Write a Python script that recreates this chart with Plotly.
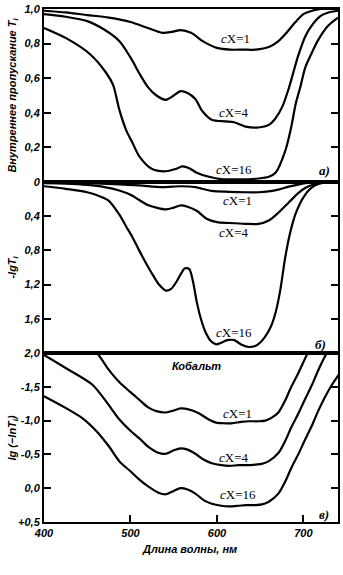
import plotly.graph_objects as go

# ---------------- data ----------------
# Panel a) internal transmittance Ti
wl_a1 = [400, 425, 450, 475, 500, 520, 537, 548, 558, 570, 585, 600, 615, 630, 645, 660, 670, 680, 690, 700, 710, 720, 740]
ta_1 = [0.99, 0.98, 0.965, 0.95, 0.925, 0.89, 0.862, 0.868, 0.878, 0.862, 0.81, 0.775, 0.765, 0.765, 0.765, 0.78, 0.81, 0.86, 0.92, 0.97, 0.99, 1.0, 1.0]

wl_a4 = [400, 425, 450, 470, 487, 500, 510, 520, 530, 541, 550, 558, 566, 575, 583, 594, 610, 620, 633, 648, 660, 668, 676, 683, 694, 702, 709, 720, 729, 740]
ta_4 = [0.97, 0.955, 0.93, 0.88, 0.815, 0.72, 0.63, 0.55, 0.50, 0.475, 0.50, 0.525, 0.515, 0.48, 0.41, 0.36, 0.35, 0.345, 0.32, 0.315, 0.33, 0.37, 0.44, 0.54, 0.73, 0.84, 0.90, 0.96, 0.98, 0.99]

wl_a16 = [400, 426, 453, 472, 480, 487, 495, 502, 510, 525, 541, 552, 560, 568, 576, 591, 605, 625, 648, 660, 668, 679, 686, 691, 697, 702, 710, 717, 728, 740]
ta_16 = [0.89, 0.83, 0.74, 0.63, 0.56, 0.42, 0.30, 0.23, 0.15, 0.075, 0.062, 0.075, 0.09, 0.08, 0.055, 0.03, 0.017, 0.015, 0.02, 0.03, 0.055, 0.18, 0.32, 0.45, 0.56, 0.66, 0.75, 0.82, 0.90, 0.95]

# Panel б) -lg Ti
wl_b1 = [400, 450, 487, 510, 537, 558, 575, 594, 614, 633, 648, 660, 671, 683, 694, 705, 720, 740]
vb_1 = [0.005, 0.015, 0.028, 0.04, 0.06, 0.05, 0.06, 0.105, 0.115, 0.12, 0.12, 0.11, 0.09, 0.055, 0.03, 0.012, 0.003, 0.0]

wl_b4 = [400, 425, 450, 470, 487, 500, 510, 520, 530, 541, 550, 558, 566, 577, 588, 600, 614, 633, 648, 660, 671, 683, 694, 702, 712, 725, 740]
vb_4 = [0.015, 0.02, 0.035, 0.06, 0.10, 0.15, 0.21, 0.27, 0.30, 0.32, 0.30, 0.275, 0.29, 0.34, 0.43, 0.47, 0.48, 0.49, 0.49, 0.45, 0.36, 0.24, 0.13, 0.07, 0.03, 0.008, 0.0]

wl_b16 = [400, 425, 450, 465, 475, 487, 495, 502, 510, 518, 526, 533, 541, 547, 553, 558, 563, 568, 572, 577, 582, 587, 593, 599, 605, 612, 620, 628, 637, 646, 655, 662, 668, 673, 679, 685, 691, 700, 709, 718, 725, 740]
vb_16 = [0.05, 0.08, 0.12, 0.17, 0.22, 0.38, 0.52, 0.64, 0.80, 0.95, 1.09, 1.20, 1.27, 1.25, 1.17, 1.08, 1.01, 1.02, 1.15, 1.42, 1.62, 1.76, 1.86, 1.90, 1.88, 1.85, 1.85, 1.90, 1.93, 1.91, 1.82, 1.70, 1.52, 1.28, 0.88, 0.58, 0.37, 0.18, 0.07, 0.02, 0.005, 0.0]

# Panel в) lg(-ln Ti)
wl_c1 = [440, 461, 475, 487, 500, 510, 520, 530, 541, 550, 558, 566, 579, 590, 599, 610, 617, 628, 637, 648, 656, 663, 671, 679, 686, 694, 702, 710]
vc_1 = [-2.2, -2.0, -1.75, -1.57, -1.42, -1.31, -1.2, -1.14, -1.12, -1.15, -1.18, -1.17, -1.11, -1.02, -0.97, -0.96, -0.96, -0.98, -0.99, -0.99, -1.0, -1.04, -1.12, -1.30, -1.50, -1.70, -1.92, -2.13]

wl_c4 = [400, 426, 456, 472, 487, 500, 510, 520, 533, 541, 550, 558, 566, 575, 585, 594, 605, 614, 625, 633, 645, 652, 660, 671, 679, 686, 694, 702, 710, 717, 725, 733]
vc_4 = [-1.97, -1.77, -1.53, -1.28, -1.02, -0.85, -0.74, -0.62, -0.52, -0.51, -0.56, -0.59, -0.57, -0.51, -0.42, -0.37, -0.34, -0.33, -0.34, -0.34, -0.35, -0.36, -0.40, -0.52, -0.70, -0.90, -1.10, -1.32, -1.53, -1.74, -1.95, -2.13]

wl_c16 = [400, 426, 445, 461, 475, 487, 500, 510, 520, 533, 541, 550, 558, 566, 575, 585, 594, 605, 614, 625, 633, 645, 652, 660, 671, 679, 686, 694, 702, 710, 717, 725, 733, 741]
vc_16 = [-1.36, -1.18, -1.03, -0.84, -0.62, -0.40, -0.25, -0.13, -0.03, 0.07, 0.09, 0.04, 0.0, 0.02, 0.08, 0.18, 0.23, 0.26, 0.27, 0.26, 0.25, 0.25, 0.24, 0.20, 0.08, -0.10, -0.30, -0.50, -0.72, -0.93, -1.14, -1.35, -1.53, -1.68]

x_ticks = [400, 500, 600, 700]
x_tick_text = ["400", "500", "600", "700"]
ya_ticks = [0.2, 0.4, 0.6, 0.8, 1.0]
ya_text = ["0,2", "0,4", "0,6", "0,8", "1,0"]
yb_ticks = [0, 0.4, 0.8, 1.2, 1.6]
yb_text = ["0", "0,4", "0,8", "1,2", "1,6"]
yc_ticks = [-2.0, -1.5, -1.0, -0.5, 0.0, 0.5]
yc_text = ["2,0", "-1,5", "-1,0", "-0,5", "0,0", "+0,5"]

# ---------------- figure ----------------
fig = go.Figure()
LW = 2.2
series = [
    (wl_a1, ta_1, "x", "y"), (wl_a4, ta_4, "x", "y"), (wl_a16, ta_16, "x", "y"),
    (wl_b1, vb_1, "x2", "y2"), (wl_b4, vb_4, "x2", "y2"), (wl_b16, vb_16, "x2", "y2"),
    (wl_c1, vc_1, "x3", "y3"), (wl_c4, vc_4, "x3", "y3"), (wl_c16, vc_16, "x3", "y3"),
]
for xs, ys, xa, ya in series:
    fig.add_trace(go.Scatter(x=xs, y=ys, xaxis=xa, yaxis=ya, mode="lines",
                             line=dict(color="black", width=LW, shape="spline", smoothing=0.8),
                             showlegend=False, hoverinfo="skip"))

H = 519.0
dom_c = [0, 171 / H]
dom_b = [171 / H, 344 / H]
dom_a = [344 / H, 1]

tickfont = dict(family="Liberation Sans", size=11, color="black", style="italic", weight="bold")
xcommon = dict(range=[400, 740], showline=True, linecolor="black", linewidth=2, mirror=True,
               showgrid=False, zeroline=False, tickvals=x_ticks, ticktext=x_tick_text,
               tickfont=tickfont)
ycommon = dict(showline=True, linecolor="black", linewidth=2, mirror="ticks", showgrid=False,
               zeroline=False, ticks="inside", ticklen=7, tickwidth=2, tickcolor="black",
               tickfont=tickfont)

fig.update_layout(
    width=343, height=575,
    margin=dict(l=44, r=4, t=3, b=53),
    paper_bgcolor="white", plot_bgcolor="white",
    xaxis=dict(**xcommon, domain=[0, 1], anchor="y", showticklabels=False, ticks=""),
    xaxis2=dict(**xcommon, domain=[0, 1], anchor="y2", showticklabels=False, ticks="", matches="x"),
    xaxis3=dict(**xcommon, domain=[0, 1], anchor="y3", ticks="inside", ticklen=7, tickwidth=2,
                tickcolor="black", matches="x"),
    yaxis=dict(**ycommon, domain=dom_a, range=[0, 1.0], tickvals=ya_ticks, ticktext=ya_text, anchor="x"),
    yaxis2=dict(**ycommon, domain=dom_b, range=[2.0, 0], tickvals=yb_ticks, ticktext=yb_text, anchor="x2"),
    yaxis3=dict(**ycommon, domain=dom_c, range=[0.5, -2.0], tickvals=yc_ticks, ticktext=yc_text, anchor="x3"),
)

lab = dict(family="Liberation Serif", size=13, color="black")
ital = dict(family="Liberation Serif", size=13, color="black", style="italic", weight="bold")
def ann(text, x, y, xref, yref, font):
    fig.add_annotation(text=text, x=x, y=y, xref=xref, yref=yref, showarrow=False, font=font)

# panel a
ann("<i>c</i>X=1", 622, 0.83, "x", "y", lab)
ann("<i>c</i>X=4", 620, 0.40, "x", "y", lab)
ann("<i>c</i>X=16", 620, 0.07, "x", "y", lab)
ann("a)", 724, 0.065, "x", "y", ital)
# panel b
ann("<i>c</i>X=1", 624, 0.22, "x2", "y2", lab)
ann("<i>c</i>X=4", 620, 0.59, "x2", "y2", lab)
ann("<i>c</i>X=16", 620, 1.76, "x2", "y2", lab)
ann("б)", 720, 1.90, "x2", "y2", ital)
# panel c
ann("Кобальт", 576, -1.8, "x3", "y3", dict(family="Liberation Sans", size=11, color="black", style="italic", weight="bold"))
ann("<i>c</i>X=1", 624, -1.1, "x3", "y3", lab)
ann("<i>c</i>X=4", 620, -0.46, "x3", "y3", lab)
ann("<i>c</i>X=16", 624, 0.10, "x3", "y3", lab)
ann("в)", 724, 0.39, "x3", "y3", ital)

# axis titles
axt = dict(family="Liberation Sans", size=11, color="black", style="italic", weight="bold")
def ytitle(text, yfrac):
    fig.add_annotation(text=text, x=-31 / 295, y=yfrac, xref="paper", yref="paper",
                       showarrow=False, textangle=-90, font=axt, xanchor="center", yanchor="middle")
ytitle("Внутреннее пропускание T<sub>i</sub>", (dom_a[0] + dom_a[1]) / 2)
ytitle("-lgT<sub>i</sub>", (dom_b[0] + dom_b[1]) / 2)
ytitle("lg (−lnT<sub>i</sub>)", (dom_c[0] + dom_c[1]) / 2)
fig.add_annotation(text="Длина волны, нм", x=(190 - 44) / 295, y=-27 / H, xref="paper", yref="paper",
                   showarrow=False, font=axt, xanchor="center", yanchor="middle")

fig.write_html("out.html")
